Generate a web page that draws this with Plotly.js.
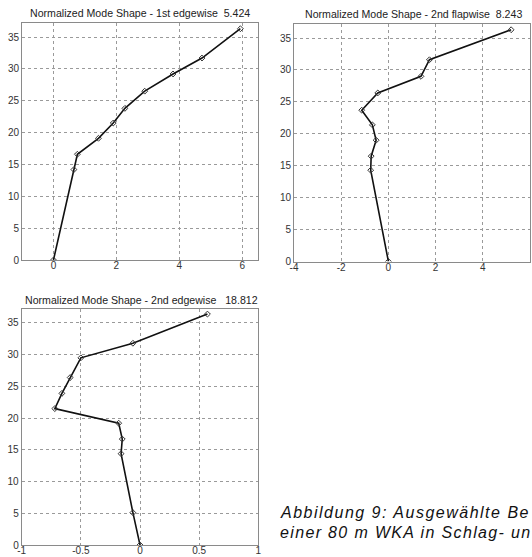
<!DOCTYPE html>
<html>
<head>
<meta charset="utf-8">
<script src="https://cdn.plot.ly/plotly-3.0.1.min.js"></script>
<style>
html,body{margin:0;padding:0;background:#fff;overflow:hidden}
#plot{width:532px;height:557px}
#plot .annotation[data-index="3"] text{letter-spacing:1.5px}
#plot .annotation[data-index="4"] text{letter-spacing:1.35px}
</style>
</head>
<body>
<div id="plot"></div>
<script>
// Mode 1: 1st edgewise
const edge1X = [0, 0.65, 0.76, 1.43, 1.9, 2.27, 2.9, 3.8, 4.72, 5.94];
const edge1Y = [0, 14.2, 16.6, 19.1, 21.5, 23.8, 26.5, 29.2, 31.7, 36.3];
// Mode 2: 2nd flapwise
const flap2X = [0, -0.75, -0.73, -0.52, -0.68, -1.13, -0.45, 1.38, 1.74, 5.2];
const flap2Y = [0, 14.3, 16.5, 19.0, 21.4, 23.7, 26.4, 29.0, 31.6, 36.3];
// Mode 3: 2nd edgewise
const edge2X = [0, -0.06, -0.16, -0.15, -0.18, -0.72, -0.66, -0.59, -0.50, -0.06, 0.57];
const edge2Y = [0, 5.1, 14.4, 16.7, 19.2, 21.5, 23.9, 26.4, 29.5, 31.8, 36.4];

const titles = [
  "Normalized Mode Shape - 1st edgewise \u00a05.424",
  "Normalized Mode Shape - 2nd flapwise \u00a08.243",
  "Normalized Mode Shape - 2nd edgewise \u00a0 18.812"
];
const yTicks = [0, 5, 10, 15, 20, 25, 30, 35];
const yLabels = ["0", "5", "10", "15", "20", "25", "30", "35"];
const x1Ticks = [0, 2, 4, 6];
const x1Labels = ["0", "2", "4", "6"];
const x2Ticks = [-4, -2, 0, 2, 4, 6];
const x2Labels = ["-4", "-2", "0", "2", "4", "6"];
const x3Ticks = [-1, -0.5, 0, 0.5, 1];
const x3Labels = ["-1", "-0.5", "0", "0.5", "1"];
const captionLines = ["Abbildung 9: Ausgewählte Be", "einer 80 m WKA in Schlag- un"];

const W = 532, H = 557;
const px = v => v / W;
const py = v => 1 - v / H;

const lineStyle = {color: '#111', width: 1.6};
const markerStyle = {symbol: 'diamond-open', size: 4.5, color: '#333', line: {width: 1, color: '#333'}};

const traces = [
  {x: edge1X, y: edge1Y, xaxis: 'x', yaxis: 'y', mode: 'lines+markers', line: lineStyle, marker: markerStyle, hoverinfo: 'skip'},
  {x: flap2X, y: flap2Y, xaxis: 'x2', yaxis: 'y2', mode: 'lines+markers', line: lineStyle, marker: markerStyle, hoverinfo: 'skip'},
  {x: edge2X, y: edge2Y, xaxis: 'x3', yaxis: 'y3', mode: 'lines+markers', line: lineStyle, marker: markerStyle, hoverinfo: 'skip'}
];

const tickFont = {family: 'Liberation Sans, Arial, sans-serif', size: 10, color: '#333'};
function ax(extra) {
  return Object.assign({
    showgrid: true, gridcolor: '#9a9a9a', griddash: 'dot', gridwidth: 1,
    showline: true, linecolor: '#8a8a8a', linewidth: 1, mirror: true,
    zeroline: false, ticks: '', tickfont: tickFont, fixedrange: true
  }, extra);
}

const titleFont = {family: 'Liberation Sans, Arial, sans-serif', size: 10.6, color: '#222'};
const capFont = {family: 'Liberation Sans, Arial, sans-serif', size: 16, color: '#111', style: 'italic'};

const layout = {
  width: W, height: H,
  margin: {l: 0, r: 0, t: 0, b: 0},
  paper_bgcolor: '#fff', plot_bgcolor: '#fff',
  showlegend: false,
  xaxis: ax({domain: [px(22), px(258)], range: [-1, 6.5], tickvals: x1Ticks, ticktext: x1Labels, ticklabelstandoff: -4, anchor: 'y'}),
  yaxis: ax({domain: [py(260), py(23)], range: [0, 37.2], tickvals: yTicks, ticktext: yLabels, anchor: 'x'}),
  xaxis2: ax({domain: [px(294), px(530)], range: [-4, 6], tickvals: x2Ticks, ticktext: x2Labels, ticklabelstandoff: -4, anchor: 'y2'}),
  yaxis2: ax({domain: [py(261.5), py(24)], range: [0, 37.2], tickvals: yTicks, ticktext: yLabels, anchor: 'x2'}),
  xaxis3: ax({domain: [px(21.7), px(258.3)], range: [-1, 1], tickvals: x3Ticks, ticktext: x3Labels, ticklabelstandoff: -4, anchor: 'y3'}),
  yaxis3: ax({domain: [py(545), py(309)], range: [0, 37.2], tickvals: yTicks, ticktext: yLabels, anchor: 'x3'}),
  annotations: [
    {text: titles[0], xref: 'paper', yref: 'paper', x: px(140), y: py(13), xanchor: 'center', yanchor: 'middle', showarrow: false, font: titleFont},
    {text: titles[1], xref: 'paper', yref: 'paper', x: px(413), y: py(13.5), xanchor: 'center', yanchor: 'middle', showarrow: false, font: titleFont},
    {text: titles[2], xref: 'paper', yref: 'paper', x: px(141), y: py(300), xanchor: 'center', yanchor: 'middle', showarrow: false, font: titleFont},
    {text: captionLines[0], xref: 'paper', yref: 'paper', x: px(278), y: py(512), xanchor: 'left', yanchor: 'middle', align: 'left', showarrow: false, font: capFont},
    {text: captionLines[1], xref: 'paper', yref: 'paper', x: px(278), y: py(532), xanchor: 'left', yanchor: 'middle', align: 'left', showarrow: false, font: capFont}
  ]
};

Plotly.newPlot('plot', traces, layout, {displayModeBar: false, staticPlot: true});
</script>
</body>
</html>
